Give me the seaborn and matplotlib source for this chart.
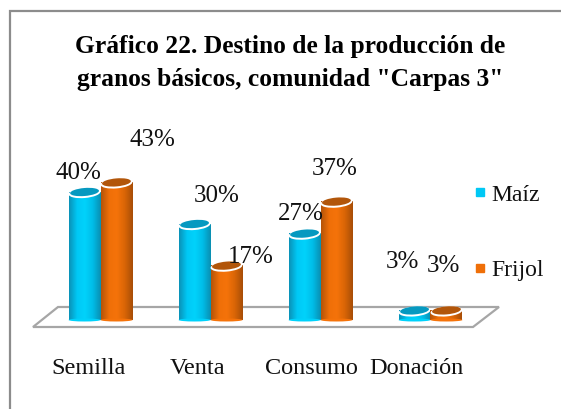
import matplotlib
matplotlib.use('Agg')
import matplotlib.pyplot as plt
import numpy as np
import pandas as pd
import seaborn as sns
from matplotlib.colors import LinearSegmentedColormap
from matplotlib.lines import Line2D
from matplotlib.patches import Ellipse, Polygon, Rectangle
from matplotlib.transforms import IdentityTransform, ScaledTranslation

categories = ['Semilla', 'Venta', 'Consumo', 'Donación']
maiz = [40, 30, 27, 3]
frijol = [43, 17, 37, 3]
series_names = ['Maíz', 'Frijol']

# label nudges in pixels from the top of each bar, the original has them hand placed
maiz_nudge = [(-6, 19), (22, 28), (-4, 20), (-12, 48)]
frijol_nudge = [(36, 42), (24, 9), (-2, 33), (-3, 44)]
# category labels are not centred under the groups in the original
tick_nudge = [-12, -13, -9, -14]

W, H = 561, 409
plt.rcParams['font.family'] = ['Liberation Serif', 'DejaVu Serif']

df = pd.DataFrame({'cat': categories * 2,
                   'valor': maiz + frijol,
                   'serie': [series_names[0]] * 4 + [series_names[1]] * 4})

fig = plt.figure(figsize=(W / 100, H / 100), dpi=100, facecolor='white')

# axes in pixels: 0% at y=320, 3.2 px per percent, 110 px per category
ax = fig.add_axes([45.5 / W, (H - 320) / H, 440 / W, 160 / H])
sns.barplot(data=df, x='cat', y='valor', hue='serie', order=categories,
            hue_order=series_names, palette=['#00c8f5', '#ef6f08'],
            width=0.58, legend=False, ax=ax)
ax.set_xlim(-0.5, 3.5)
ax.set_ylim(0, 50)
ax.set_xlabel('')
ax.set_ylabel('')
ax.set_yticks([])
ax.patch.set_alpha(0)
sns.despine(ax=ax, left=True, bottom=True)
ax.tick_params(axis='x', length=0, pad=27, labelsize=17.5, labelcolor='#111111')
for lab, dx in zip(ax.get_xticklabels(), tick_nudge):
    lab.set_transform(lab.get_transform() + ScaledTranslation(dx / 100, 0, fig.dpi_scale_trans))

# outer frame of the picture
fig.add_artist(Rectangle((9.5 / W, -0.1), 1, 1.1 - 11.5 / H, transform=fig.transFigure,
                         fill=False, edgecolor='#8c8c8c', linewidth=1.6))

# floor of the 3d chart
floor = Polygon([(33 / W, 1 - 327 / H), (473 / W, 1 - 327 / H),
                 (499 / W, 1 - 307 / H), (58 / W, 1 - 307 / H)],
                closed=True, transform=fig.transFigure, facecolor='white',
                edgecolor='#a6a6a6', linewidth=1.6, zorder=0.5, clip_on=False)
ax.add_patch(floor)

shades = [
    (LinearSegmentedColormap.from_list('m', ['#0a93b8', '#00c8f5', '#00d2fb', '#00bde8', '#0a8fb2']), '#0699c0'),
    (LinearSegmentedColormap.from_list('f', ['#b55408', '#ef6f08', '#f5730a', '#d96506', '#a84e08']), '#b2560a'),
]
grad = np.linspace(0, 1, 64).reshape(1, -1)
n = len(categories)
bars = list(ax.patches[:2 * n])
fig.canvas.draw()

for i, bar in enumerate(bars):
    s = i // n
    cmap, top_col = shades[s]
    x0, w, h = bar.get_x(), bar.get_width(), bar.get_height()
    bar.set_visible(False)
    z = 2 + s * 0.1
    # side of the cylinder with a shaded image
    ax.imshow(grad, cmap=cmap, extent=(x0, x0 + w, 0, h), aspect='auto', zorder=z)
    cx, cy = ax.transData.transform((x0 + w / 2, h))
    bx, by = ax.transData.transform((x0 + w / 2, 0))
    wpx = ax.transData.transform((x0 + w, 0))[0] - ax.transData.transform((x0, 0))[0]
    # rounded foot, white rim and the dark top, tilted a little as in the original
    ax.add_patch(Ellipse((bx, by), wpx, 3, facecolor=cmap(0.5), edgecolor='none', zorder=z,
                         transform=IdentityTransform(), clip_on=False))
    ax.add_patch(Ellipse((cx, cy - 1), wpx, 10, angle=5, facecolor='white', edgecolor='none', zorder=z + 0.01,
                         transform=IdentityTransform(), clip_on=False))
    ax.add_patch(Ellipse((cx, cy), wpx - 3, 8, angle=5, facecolor=top_col, edgecolor='none', zorder=z + 0.02,
                         transform=IdentityTransform(), clip_on=False))
ax.set_xlim(-0.5, 3.5)
ax.set_ylim(0, 50)

# value labels
for j, vals, nudge in [(0, maiz, maiz_nudge), (1, frijol, frijol_nudge)]:
    for k, v in enumerate(vals):
        bar = bars[j * n + k]
        ax.annotate(f'{v}%', (bar.get_x() + bar.get_width() / 2, v),
                    xytext=(nudge[k][0] * 0.72, nudge[k][1] * 0.72), textcoords='offset points',
                    ha='center', va='center', fontsize=18, color='#111111', zorder=8,
                    annotation_clip=False)

handles = [Line2D([], [], linestyle='none', marker='s', markersize=6, color=c)
           for c in ['#00c8f5', '#ef6f08']]
fig.legend(handles, series_names, loc='upper left', bbox_to_anchor=(468 / W, 1 - 184 / H),
           frameon=False, fontsize=17, labelspacing=2.3, handletextpad=0.0,
           handlelength=1.0, borderpad=0, borderaxespad=0, labelcolor='#111111')

fig.text(290 / W, 1 - 63 / H, 'Gráfico 22. Destino de la producción de\ngranos básicos, comunidad "Carpas 3"',
         ha='center', va='center', fontsize=18.4, fontweight='bold', color='black', linespacing=1.6)

fig.savefig('out.png', dpi=100)
